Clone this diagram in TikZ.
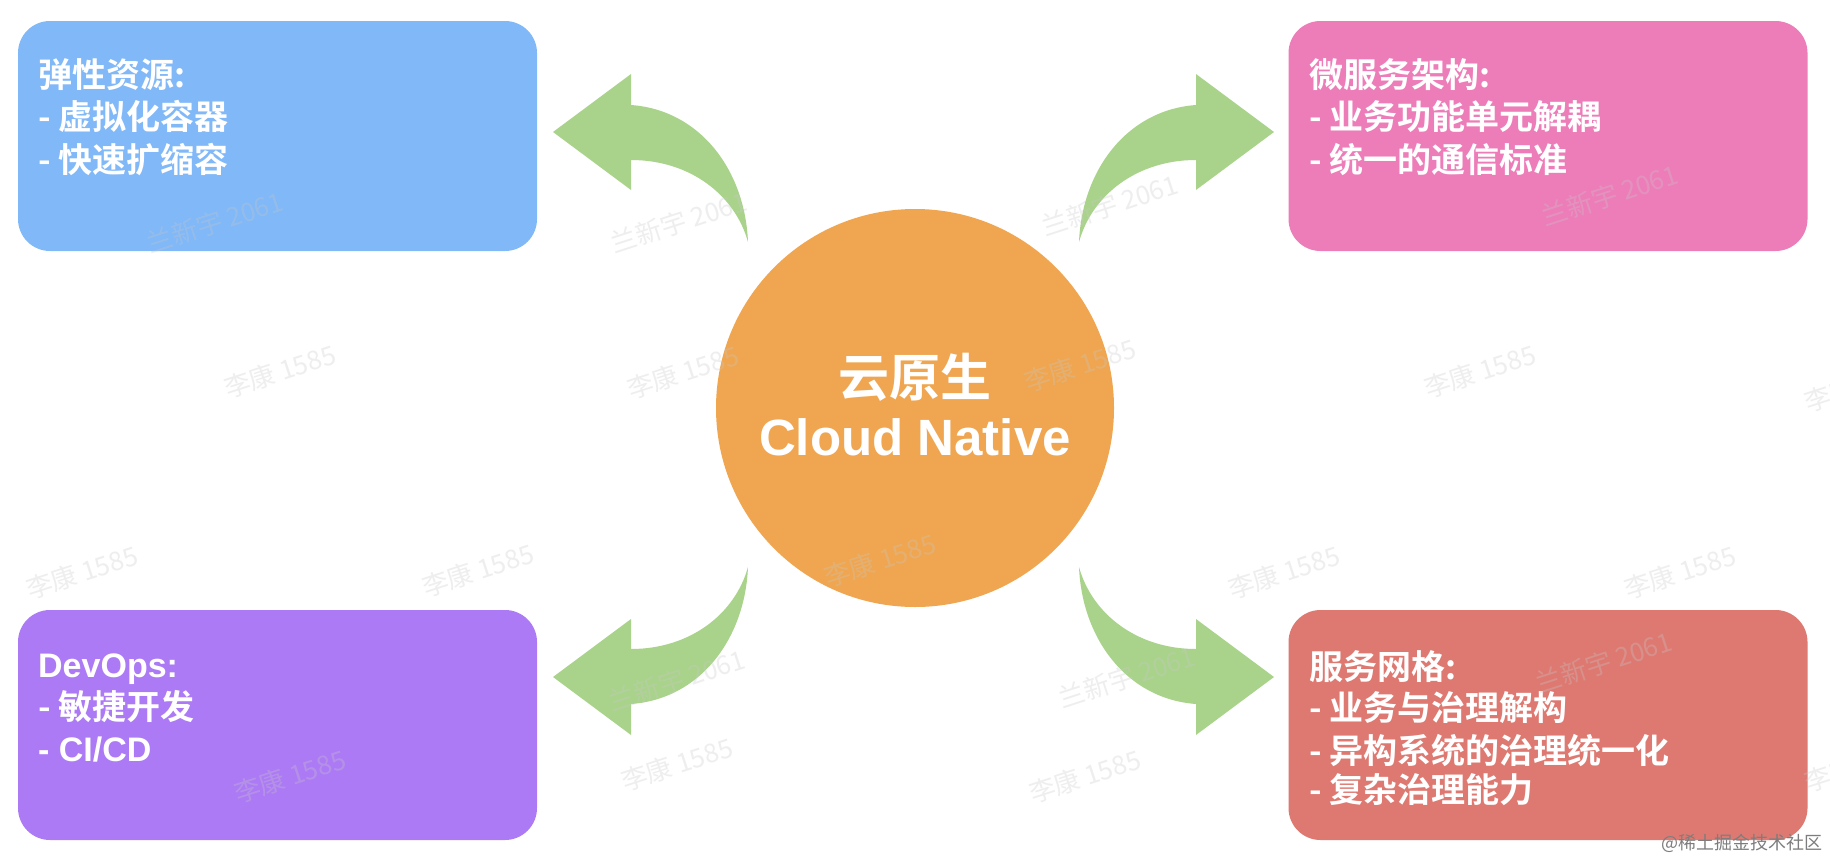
\documentclass[tikz,border=0pt]{standalone}
\usepackage{fontspec}
\setmainfont{Liberation Sans}
\newfontfamily\cjk{Noto Sans CJK SC}[BoldFont={Noto Sans CJK SC Bold}]
\newfontfamily\lat{Liberation Sans}
\definecolor{boxblue}{RGB}{128,184,248}
\definecolor{boxpink}{RGB}{237,125,185}
\definecolor{boxpurple}{RGB}{172,122,245}
\definecolor{boxred}{RGB}{222,121,113}
\definecolor{coreorange}{RGB}{240,166,80}
\definecolor{arrowgreen}{RGB}{169,211,139}
\definecolor{wmgray}{RGB}{200,200,200}
\definecolor{credit}{RGB}{125,125,125}
\tikzset{
  infobox/.style={rectangle, rounded corners=32pt, inner sep=0pt, draw=none,
    minimum width=519pt, minimum height=230pt},
  infoline/.style={anchor=base west, inner sep=0pt, text=white,
    font=\fontsize{34}{40}\selectfont},
  coretext/.style={anchor=base, inner sep=0pt, text=white,
    font=\fontsize{51}{56}\selectfont},
  wm/.style={inner sep=0pt, rotate=18, text=wmgray, text opacity=0.3,
    font=\cjk\fontsize{26}{26}\selectfont},
  bendarrow/.style={fill=arrowgreen, draw=none}
}
\newcommand{\bendarrowpath}{(553,132) -- (631,74) -- (631,105)
  .. controls (700,110) and (745,170) .. (748,242)
  .. controls (735,195) and (690,160) .. (631,160)
  -- (631,190) -- cycle}
\begin{document}
\begin{tikzpicture}[x=1pt,y=-1pt]
\useasboundingbox[fill=white] (0,0) rectangle (1830,862);

% boxes
\node[infobox, fill=boxblue]   (elastic) at (277.5,136) {};
\node[infobox, fill=boxpink]   (micro)   at (1548,136) {};
\node[infobox, fill=boxpurple] (devops)  at (277.5,725) {};
\node[infobox, fill=boxred]    (mesh)    at (1548,725) {};

% core circle
\node[circle, fill=coreorange, minimum size=398pt, inner sep=0pt] (core) at (915,408) {};
\node[coretext, font=\cjk\bfseries\fontsize{51}{56}\selectfont] (coreA) at (915,396) {云原生};
\node[coretext, font=\lat\bfseries\fontsize{51}{56}\selectfont] (coreB) at (915,455) {Cloud Native};

% curved arrows
\fill[bendarrow] \bendarrowpath;
\begin{scope}[shift={(1827,0)}, xscale=-1]
  \fill[bendarrow] \bendarrowpath;
\end{scope}
\begin{scope}[shift={(0,809)}, yscale=-1]
  \fill[bendarrow] \bendarrowpath;
\end{scope}
\begin{scope}[shift={(1827,809)}, xscale=-1, yscale=-1]
  \fill[bendarrow] \bendarrowpath;
\end{scope}

% box texts
\node[infoline] (e1) at (38,87)    {\cjk\bfseries 弹性资源:};
\node[infoline] (e2) at (38,129.5) {\cjk\bfseries - 虚拟化容器};
\node[infoline] (e3) at (38,172)   {\cjk\bfseries - 快速扩缩容};

\node[infoline] (m1) at (1309,87)    {\cjk\bfseries 微服务架构:};
\node[infoline] (m2) at (1309,129.5) {\cjk\bfseries - 业务功能单元解耦};
\node[infoline] (m3) at (1309,172)   {\cjk\bfseries - 统一的通信标准};

\node[infoline] (d1) at (38,677)   {\lat\bfseries DevOps:};
\node[infoline] (d2) at (38,719)   {\cjk\bfseries - 敏捷开发};
\node[infoline] (d3) at (38,761)   {\lat\bfseries - CI/CD};

\node[infoline] (s1) at (1309,679)   {\cjk\bfseries 服务网格:};
\node[infoline] (s2) at (1309,720.5) {\cjk\bfseries - 业务与治理解构};
\node[infoline] (s3) at (1309,763)   {\cjk\bfseries - 异构系统的治理统一化};
\node[infoline] (s4) at (1309,802.5) {\cjk\bfseries - 复杂治理能力};

% watermarks
\node[wm] (w1)  at (280,371)  {李康 1585};
\node[wm] (w2)  at (683,372)  {李康 1585};
\node[wm] (w3)  at (1080,365) {李康 1585};
\node[wm] (w4)  at (1480,371) {李康 1585};
\node[wm] (w5)  at (82,572)   {李康 1585};
\node[wm] (w6)  at (478,570)  {李康 1585};
\node[wm] (w7)  at (880,560)  {李康 1585};
\node[wm] (w8)  at (1284,572) {李康 1585};
\node[wm] (w9)  at (1680,572) {李康 1585};
\node[wm] (w10) at (290,776)  {李康 1585};
\node[wm] (w11) at (677,764)  {李康 1585};
\node[wm] (w12) at (1085,776) {李康 1585};
\node[wm] (w13) at (1860,385) {李康 1585};
\node[wm] (w14) at (1860,765) {李康 1585};
\node[wm] (v1)  at (215,222)  {兰新宇 2061};
\node[wm] (v2)  at (679,222)  {兰新宇 2061};
\node[wm] (v3)  at (1110,205) {兰新宇 2061};
\node[wm] (v4)  at (1610,195) {兰新宇 2061};
\node[wm] (v5)  at (677,680)  {兰新宇 2061};
\node[wm] (v6)  at (1127,677) {兰新宇 2061};
\node[wm] (v7)  at (1604,662) {兰新宇 2061};

% credit
\node[anchor=east, inner sep=0pt, text=credit, font=\cjk\fontsize{18}{18}\selectfont] (credit) at (1823,843) {@稀土掘金技术社区};
\end{tikzpicture}
\end{document}
